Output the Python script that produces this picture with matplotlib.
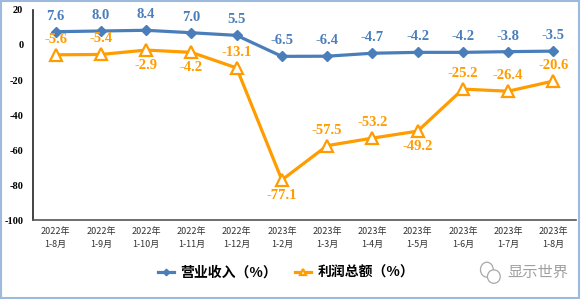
import matplotlib.pyplot as plt
from matplotlib.patches import Rectangle, Ellipse

plt.rcParams['font.family'] = ['Noto Sans CJK SC', 'DejaVu Sans']

# data
months = ['2022年\n1-8月', '2022年\n1-9月', '2022年\n1-10月', '2022年\n1-11月', '2022年\n1-12月',
          '2023年\n1-2月', '2023年\n1-3月', '2023年\n1-4月', '2023年\n1-5月', '2023年\n1-6月',
          '2023年\n1-7月', '2023年\n1-8月']
revenue = [7.6, 8.0, 8.4, 7.0, 5.5, -6.5, -6.4, -4.7, -4.2, -4.2, -3.8, -3.5]
profit = [-5.6, -5.4, -2.9, -4.2, -13.1, -77.1, -57.5, -53.2, -49.2, -25.2, -26.4, -20.6]
# where the profit label sits: 1 above, -1 below
profit_side = [1, 1, -1, -1, 1, -1, 1, 1, -1, 1, 1, 1]

blue = '#4a7ebb'
orange = '#ff9c00'
serif = 'Liberation Serif'

fig = plt.figure(figsize=(5.81, 2.99), dpi=100)
ax = fig.add_axes([0.0568, 0.264, 0.9346, 0.7026])

x = list(range(len(months)))
ax.plot(x, revenue, color=blue, lw=2.3, marker='D', ms=5.5, mfc=blue, mec=blue,
        label='营业收入（%）', zorder=3)
ax.plot(x, profit, color=orange, lw=2.3, marker='^', ms=8, mfc='white', mec=orange,
        mew=1.6, label='利润总额（%）', zorder=3)

for i, v in enumerate(revenue):
    ax.annotate(f'{v:.1f}', (i, v), xytext=(0, 6.5), textcoords='offset points',
                ha='center', va='bottom', color=blue, fontsize=10.5,
                fontweight='bold', family=serif)
for i, v in enumerate(profit):
    s = profit_side[i]
    ax.annotate(f'{v:.1f}', (i, v), xytext=(0, 6.5 * s), textcoords='offset points',
                ha='center', va='bottom' if s > 0 else 'top', color=orange,
                fontsize=10.5, fontweight='bold', family=serif)

ax.set_xlim(-0.5, len(months) - 0.5)
ax.set_ylim(-100, 20)
ax.set_yticks(range(-100, 21, 20))
ax.set_yticklabels([str(t) for t in range(-100, 21, 20)], fontsize=7.5,
                   fontweight='bold', family=serif)
ax.set_xticks(x)
ax.set_xticklabels(months, fontsize=6.5, color='#333333', linespacing=1.6)
ax.tick_params(axis='both', length=0, pad=5)
ax.tick_params(axis='y', pad=7)

for side in ['top', 'right']:
    ax.spines[side].set_visible(False)
ax.spines['left'].set_color('#222222')
ax.spines['left'].set_linewidth(1.2)
ax.spines['bottom'].set_color('#555555')
ax.spines['bottom'].set_linewidth(1.2)

leg = fig.legend(loc='center', bbox_to_anchor=(0.493, 0.088), ncol=2, frameon=False,
                 prop={'size': 10, 'weight': 'bold'}, handlelength=1.1,
                 handletextpad=0.5, columnspacing=1.3, markerscale=0.6)

# watermark with a rough chat-bubble icon
fig.text(0.925, 0.088, '显示世界', ha='center', va='center', color='#a0a0a0', fontsize=11)
fig.patches.append(Ellipse((0.838, 0.098), 0.022, 0.05, transform=fig.transFigure,
                           fill=False, edgecolor='#a8a8a8', lw=0.9))
fig.patches.append(Ellipse((0.85, 0.075), 0.022, 0.045, transform=fig.transFigure,
                           facecolor='white', edgecolor='#a8a8a8', lw=0.9))

fig.patches.append(Rectangle((0.002, 0.003), 0.995, 0.993, transform=fig.transFigure,
                             fill=False, edgecolor='#9db9db', lw=1.5))

plt.savefig('out.png', dpi=100)
